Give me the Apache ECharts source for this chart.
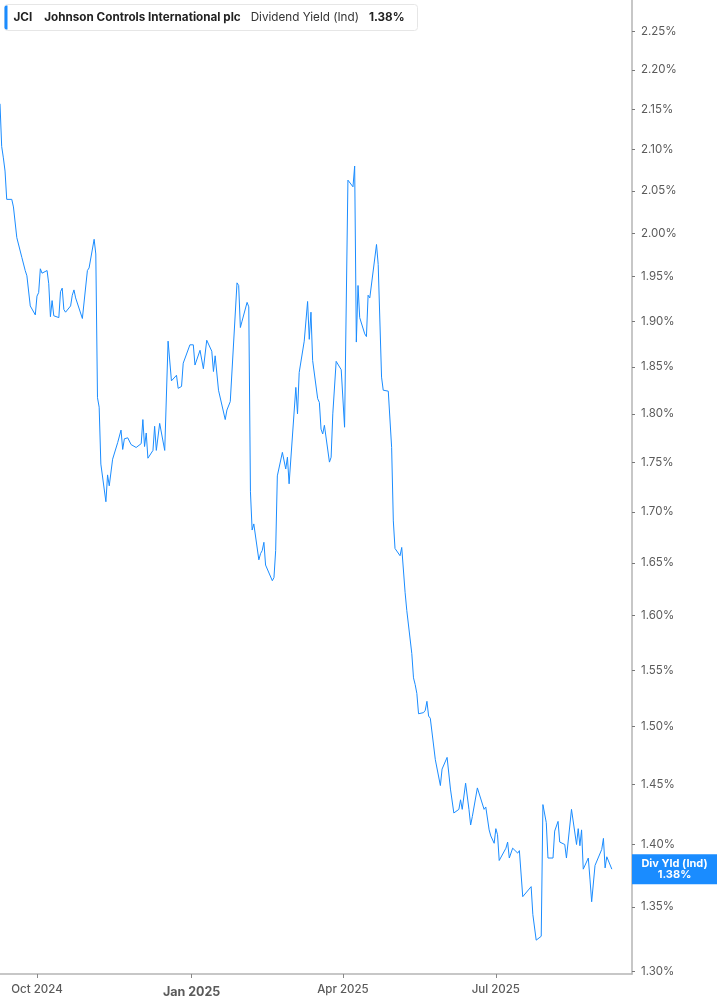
<!DOCTYPE html>
<html lang="en">
<head>
    <meta charset="utf-8">
    <title>JCI Dividend Yield (Ind)</title>
    <script src="https://cdn.jsdelivr.net/npm/echarts@6/dist/echarts.min.js"></script>
    <style>
        html, body { margin: 0; padding: 0; background: #fff; }
        #chart { width: 717px; height: 1005px; }
    </style>
</head>
<body>
    <div id="chart"></div>
    <script>
        // values
        const dates = [
            '2024-09-09', '2024-09-10', '2024-09-11', '2024-09-12', '2024-09-13', '2024-09-16', '2024-09-17', '2024-09-18',
            '2024-09-19', '2024-09-20', '2024-09-22', '2024-09-24', '2024-09-25', '2024-09-27', '2024-09-30', '2024-10-01',
            '2024-10-02', '2024-10-03', '2024-10-04', '2024-10-07', '2024-10-08', '2024-10-09', '2024-10-10', '2024-10-11',
            '2024-10-14', '2024-10-15', '2024-10-16', '2024-10-17', '2024-10-18', '2024-10-21', '2024-10-22', '2024-10-23',
            '2024-10-24', '2024-10-25', '2024-10-28', '2024-10-31', '2024-11-01', '2024-11-04', '2024-11-05', '2024-11-06',
            '2024-11-07', '2024-11-08', '2024-11-11', '2024-11-12', '2024-11-13', '2024-11-15', '2024-11-18', '2024-11-20',
            '2024-11-21', '2024-11-22', '2024-11-24', '2024-11-26', '2024-11-27', '2024-11-29', '2024-12-02', '2024-12-03',
            '2024-12-04', '2024-12-05', '2024-12-06', '2024-12-09', '2024-12-10', '2024-12-11', '2024-12-13', '2024-12-16',
            '2024-12-18', '2024-12-19', '2024-12-20', '2024-12-23', '2024-12-24', '2024-12-26', '2024-12-27', '2024-12-31',
            '2025-01-02', '2025-01-03', '2025-01-06', '2025-01-08', '2025-01-10', '2025-01-13', '2025-01-14', '2025-01-15',
            '2025-01-17', '2025-01-21', '2025-01-22', '2025-01-24', '2025-01-28', '2025-01-29', '2025-01-30', '2025-01-31',
            '2025-02-03', '2025-02-04', '2025-02-05', '2025-02-06', '2025-02-07', '2025-02-10', '2025-02-11', '2025-02-12',
            '2025-02-13', '2025-02-14', '2025-02-18', '2025-02-19', '2025-02-20', '2025-02-21', '2025-02-24', '2025-02-25',
            '2025-02-26', '2025-02-27', '2025-02-28', '2025-03-04', '2025-03-05', '2025-03-06', '2025-03-09', '2025-03-11',
            '2025-03-12', '2025-03-13', '2025-03-14', '2025-03-17', '2025-03-18', '2025-03-19', '2025-03-20', '2025-03-21',
            '2025-03-24', '2025-03-25', '2025-03-26', '2025-03-28', '2025-03-31', '2025-04-02', '2025-04-04', '2025-04-07',
            '2025-04-08', '2025-04-09', '2025-04-10', '2025-04-11', '2025-04-14', '2025-04-15', '2025-04-16', '2025-04-17',
            '2025-04-21', '2025-04-22', '2025-04-24', '2025-04-25', '2025-04-28', '2025-04-30', '2025-05-01', '2025-05-02',
            '2025-05-05', '2025-05-06', '2025-05-08', '2025-05-09', '2025-05-12', '2025-05-13', '2025-05-14', '2025-05-15',
            '2025-05-16', '2025-05-19', '2025-05-20', '2025-05-21', '2025-05-22', '2025-05-23', '2025-05-26', '2025-05-29',
            '2025-05-30', '2025-06-02', '2025-06-04', '2025-06-05', '2025-06-06', '2025-06-09', '2025-06-10', '2025-06-11',
            '2025-06-13', '2025-06-15', '2025-06-16', '2025-06-17', '2025-06-20', '2025-06-24', '2025-06-25', '2025-06-27',
            '2025-06-28', '2025-06-30', '2025-07-01', '2025-07-02', '2025-07-03', '2025-07-07', '2025-07-08', '2025-07-09',
            '2025-07-11', '2025-07-14', '2025-07-15', '2025-07-17', '2025-07-18', '2025-07-22', '2025-07-23', '2025-07-24',
            '2025-07-25', '2025-07-28', '2025-07-29', '2025-07-31', '2025-08-01', '2025-08-04', '2025-08-05', '2025-08-07',
            '2025-08-08', '2025-08-11', '2025-08-12', '2025-08-15', '2025-08-18', '2025-08-19', '2025-08-20', '2025-08-21',
            '2025-08-22', '2025-08-25', '2025-08-26', '2025-08-27', '2025-08-29', '2025-09-02', '2025-09-03', '2025-09-04',
            '2025-09-05', '2025-09-08'
        ];
        const yields = [
            2.157, 2.104, 2.090, 2.074, 2.040, 2.040, 2.031, 2.033,
            1.995, 1.997, 1.972, 1.957, 1.951, 1.917, 1.907, 1.928,
            1.932, 1.959, 1.954, 1.957, 1.942, 1.905, 1.923, 1.906,
            1.904, 1.933, 1.937, 1.913, 1.910, 1.917, 1.929, 1.935,
            1.926, 1.928, 1.903, 1.957, 1.960, 1.993, 1.976, 1.817,
            1.807, 1.748, 1.710, 1.737, 1.726, 1.753, 1.770, 1.783,
            1.763, 1.774, 1.775, 1.768, 1.767, 1.765, 1.769, 1.794,
            1.766, 1.780, 1.754, 1.762, 1.787, 1.762, 1.790, 1.762,
            1.878, 1.879, 1.835, 1.841, 1.827, 1.829, 1.854, 1.874,
            1.874, 1.852, 1.868, 1.848, 1.879, 1.867, 1.845, 1.862,
            1.825, 1.794, 1.804, 1.813, 1.943, 1.940, 1.893, 1.900,
            1.921, 1.916, 1.720, 1.682, 1.688, 1.653, 1.659, 1.662,
            1.670, 1.648, 1.633, 1.636, 1.662, 1.736, 1.760, 1.762,
            1.743, 1.755, 1.728, 1.828, 1.800, 1.844, 1.878, 1.922,
            1.880, 1.910, 1.857, 1.816, 1.812, 1.784, 1.779, 1.788,
            1.750, 1.755, 1.800, 1.856, 1.847, 1.786, 2.063, 2.055,
            2.080, 1.877, 1.940, 1.904, 1.886, 1.883, 1.929, 1.926,
            1.987, 1.964, 1.839, 1.825, 1.824, 1.765, 1.691, 1.664,
            1.657, 1.665, 1.622, 1.605, 1.565, 1.543, 1.537, 1.529,
            1.511, 1.512, 1.514, 1.522, 1.509, 1.507, 1.471, 1.449,
            1.463, 1.473, 1.446, 1.446, 1.426, 1.429, 1.437, 1.429,
            1.451, 1.429, 1.416, 1.423, 1.447, 1.429, 1.431, 1.412,
            1.407, 1.401, 1.413, 1.408, 1.387, 1.397, 1.402, 1.389,
            1.397, 1.393, 1.395, 1.358, 1.358, 1.366, 1.344, 1.344,
            1.324, 1.327, 1.433, 1.418, 1.389, 1.389, 1.411, 1.419,
            1.402, 1.400, 1.389, 1.429, 1.400, 1.413, 1.399, 1.412,
            1.380, 1.389, 1.372, 1.354, 1.383, 1.396, 1.405, 1.381,
            1.390, 1.380
        ];
        const yTicks = [1.30, 1.35, 1.40, 1.45, 1.50, 1.55, 1.60, 1.65, 1.70, 1.75,
                        1.80, 1.85, 1.90, 1.95, 2.00, 2.05, 2.10, 2.15, 2.20, 2.25];
        const xTicks = ['2024-10-01', '2025-01-01', '2025-04-01', '2025-07-01'];
        const lastYield = 1.38;

        const months = ['Jan', 'Feb', 'Mar', 'Apr', 'May', 'Jun', 'Jul', 'Aug', 'Sep', 'Oct', 'Nov', 'Dec'];
        const blue = '#1a8cff';
        const textColor = '#5a5a5a';
        const font = 'Inter, "Liberation Sans", sans-serif';
        const toTime = d => Date.UTC(+d.slice(0, 4), +d.slice(5, 7) - 1, +d.slice(8, 10));
        const xMin = toTime('2024-09-09');
        const xMax = toTime('2025-09-20');

        const chart = echarts.init(document.getElementById('chart'));

        const option = {
            animation: false,
            textStyle: { fontFamily: font },
            grid: { left: 0, right: 85, top: 0, bottom: 31, containLabel: false },
            xAxis: {
                type: 'value',
                min: xMin,
                max: xMax,
                splitLine: { show: false },
                axisLine: { lineStyle: { color: '#b5b5b5', width: 1.5 } },
                axisTick: {
                    show: true, length: 4, inside: false,
                    customValues: xTicks.map(toTime),
                    lineStyle: { color: '#888' }
                },
                axisLabel: {
                    customValues: xTicks.map(toTime),
                    margin: 10,
                    color: textColor,
                    fontFamily: font,
                    formatter: function (val) {
                        const d = new Date(val);
                        const s = months[d.getUTCMonth()] + ' ' + d.getUTCFullYear();
                        return d.getUTCMonth() === 0 ? '{y|' + s + '}' : '{m|' + s + '}';
                    },
                    rich: {
                        m: { fontSize: 11.5, fontWeight: 500, color: textColor, fontFamily: font },
                        y: { fontSize: 12.5, fontWeight: 'bold', color: textColor, fontFamily: font, padding: [2, 0, 0, 0] }
                    }
                }
            },
            yAxis: {
                type: 'log',
                position: 'right',
                min: 1.2981,
                max: 2.2917,
                splitLine: { show: false },
                axisLine: { show: true, lineStyle: { color: '#b5b5b5', width: 1.5 } },
                axisTick: {
                    show: true, length: 3, inside: false,
                    customValues: yTicks,
                    lineStyle: { color: '#777' }
                },
                axisLabel: {
                    customValues: yTicks,
                    margin: 9,
                    fontSize: 11.5,
                    color: textColor,
                    fontFamily: font,
                    formatter: v => Number(v).toFixed(2) + '%'
                }
            },
            series: [{
                type: 'line',
                name: 'Div Yld (Ind)',
                data: dates.map((d, i) => [toTime(d), yields[i]]),
                showSymbol: false,
                symbol: 'none',
                lineStyle: { color: blue, width: 1 },
                clip: true,
                // last-value tag sitting on the right axis
                markPoint: {
                    silent: true,
                    symbol: 'rect',
                    symbolSize: [85, 30],
                    symbolOffset: [42.5, 0],
                    symbolKeepAspect: false,
                    itemStyle: { color: blue },
                    label: {
                        show: true,
                        position: 'inside',
                        color: '#fff',
                        fontWeight: 'bold',
                        fontSize: 11,
                        lineHeight: 11.5,
                        fontFamily: font,
                        formatter: () => 'Div Yld (Ind)\n' + lastYield.toFixed(2) + '%'
                    },
                    data: [{ coord: [xMax, lastYield] }]
                }
            }],
            graphic: [{
                type: 'group',
                left: 4,
                top: 4,
                children: [{
                    type: 'rect',
                    shape: { x: 0, y: 0, width: 413, height: 26, r: 3 },
                    style: { fill: '#fff', stroke: '#e6e6e6', lineWidth: 1 }
                }, {
                    type: 'rect',
                    shape: { x: 0, y: 1, width: 3, height: 24, r: [2, 0, 0, 2] },
                    style: { fill: blue }
                }, {
                    type: 'text',
                    x: 9,
                    y: 13,
                    style: {
                        text: '{t|JCI}{c|Johnson Controls International plc}{n|Dividend Yield (Ind)}{v|1.38%}',
                        verticalAlign: 'middle',
                        rich: {
                            t: { fontSize: 11.7, fontWeight: 'bold', fill: '#222', fontFamily: font, padding: [0, 12, 0, 0] },
                            c: { fontSize: 11.7, fontWeight: 'bold', fill: '#222', fontFamily: font, padding: [0, 10, 0, 0] },
                            n: { fontSize: 11.7, fontWeight: 'normal', fill: '#333', fontFamily: font, padding: [0, 10, 0, 0] },
                            v: { fontSize: 11.7, fontWeight: 'bold', fill: '#222', fontFamily: font }
                        }
                    }
                }]
            }]
        };

        chart.setOption(option);
    </script>
</body>
</html>
